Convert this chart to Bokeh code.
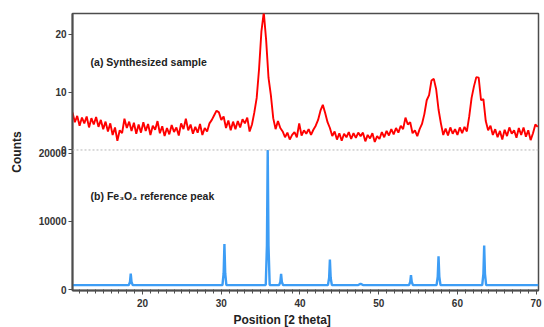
import numpy as np
from bokeh.plotting import figure
from bokeh.models import Range1d, FixedTicker, SingleIntervalTicker, Span, Label, Title
from bokeh.embed import file_html
from bokeh.resources import INLINE

# ---- data ----
theta_start = 11.1
theta_step = 0.3
sample_counts = [
    6.5, 4.8, 5.9, 4.2, 5.6, 4.6, 5.8, 3.9, 5.5, 4.4,
    5.7, 4.0, 5.2, 3.6, 4.9, 3.2, 4.6, 2.6, 3.9, 1.6,
    3.4, 2.9, 5.4, 3.8, 4.9, 3.3, 4.7, 2.8, 4.4, 3.0,
    4.8, 3.3, 4.5, 2.6, 4.2, 3.5, 5.0, 2.9, 4.1, 2.4,
    3.8, 2.7, 4.3, 3.1, 3.9, 2.5, 4.6, 3.6, 5.4, 3.4,
    4.4, 2.8, 4.0, 3.0, 4.5, 2.6, 3.8, 3.2, 4.6, 5.2,
    6.0, 6.8, 6.5, 5.2, 5.8, 3.8, 5.1, 3.4, 4.9, 3.6,
    5.0, 3.9, 5.3, 4.6, 5.6, 3.2, 4.4, 6.5, 9.0, 14.0,
    20.5, 23.8, 19.0, 12.5, 9.5, 5.5, 3.6, 5.0, 3.8, 3.2,
    2.2, 3.0, 1.8, 2.6, 3.1, 2.2, 4.6, 2.5, 3.4, 2.8,
    3.6, 2.6, 3.5, 4.2, 5.2, 6.8, 7.8, 6.4, 4.8, 3.8,
    2.4, 3.2, 1.8, 2.9, 1.6, 2.8, 2.2, 3.1, 1.9, 2.9,
    2.1, 3.0, 2.4, 3.0, 1.5, 2.6, 2.0, 2.9, 1.4, 2.4,
    1.9, 3.1, 2.2, 3.3, 2.5, 3.6, 2.7, 3.8, 3.0, 4.2,
    3.6, 5.6, 4.4, 4.8, 2.9, 3.4, 2.4, 3.6, 4.5, 6.2,
    8.6, 9.5, 12.0, 12.3, 10.5, 7.0, 4.6, 2.6, 3.7, 2.5,
    3.9, 2.8, 3.6, 2.6, 3.9, 2.9, 4.0, 3.2, 5.8, 9.0,
    11.0, 12.6, 12.5, 8.6, 8.8, 5.0, 3.4, 4.2, 2.6, 3.6,
    2.2, 3.3, 1.8, 3.5, 2.4, 3.9, 2.8, 3.4, 2.1, 3.8,
    2.6, 3.9, 2.3, 3.4, 1.7, 2.9, 4.4, 4.0,
]
sample_theta = [theta_start + theta_step * i for i in range(len(sample_counts))]

ref_theta = [
    11.1,
    18.25, 18.4, 18.5, 18.6, 18.75,
    30.15, 30.3, 30.4, 30.5, 30.65,
    35.65, 35.8, 35.9, 36.0, 36.15,
    37.35, 37.5, 37.6, 37.7, 37.85,
    43.55, 43.7, 43.8, 43.9, 44.05,
    47.4, 47.7, 48.0,
    53.85, 54.0, 54.1, 54.2, 54.35,
    57.35, 57.5, 57.6, 57.7, 57.85,
    63.15, 63.3, 63.4, 63.5, 63.65,
    70.3,
]
ref_counts = [
    650,
    650, 1100, 2350, 1100, 650,
    650, 2400, 6700, 2400, 650,
    650, 6500, 20500, 6500, 650,
    650, 1100, 2300, 1100, 650,
    650, 1700, 4400, 1700, 650,
    650, 850, 650,
    650, 1100, 2100, 1100, 650,
    650, 1900, 4900, 1900, 650,
    650, 2300, 6450, 2300, 650,
    650,
]

top_ticks = [0, 10, 20]
bottom_ticks = [0, 10000, 20000]
x_ticks_interval = 10

# ---- ranges ----
bot_start, bot_end = -147, 40588
top_start, top_end = -24.3, 23.6

FONT = "Liberation Sans"
AXIS_COLOR = "#4d4d4d"

p = figure(width=544, height=327, output_backend="svg", toolbar_location=None,
           x_range=Range1d(11.1, 70.3), y_range=Range1d(bot_start, bot_end),
           min_border_left=72, min_border_right=6, min_border_top=13,
           min_border_bottom=0, background_fill_color="white",
           border_fill_color="white")
p.extra_y_ranges = {"top": Range1d(top_start, top_end)}

p.xgrid.visible = False
p.ygrid.visible = False
p.outline_line_color = AXIS_COLOR
p.outline_line_width = 1.5

# left axis: combined ticks for both panels
def top_to_bottom(v):
    return round(bot_start + (v - top_start) / (top_end - top_start) * (bot_end - bot_start))

mapped = [top_to_bottom(v) for v in top_ticks]
ticks = bottom_ticks + mapped
overrides = {t: str(t) for t in bottom_ticks}
for v, m in zip(top_ticks, mapped):
    overrides[m] = str(v)

ya = p.yaxis[0]
ya.ticker = FixedTicker(ticks=ticks, minor_ticks=[])
ya.major_label_overrides = overrides
ya.axis_label = "Counts"
ya.axis_label_text_font = FONT
ya.axis_label_text_font_style = "bold"
ya.axis_label_text_font_size = "12px"
ya.axis_label_text_color = "#222222"
ya.axis_label_standoff = 12
ya.major_label_text_font = FONT
ya.major_label_text_font_style = "bold"
ya.major_label_text_font_size = "10px"
ya.major_label_text_color = "#333333"
ya.major_label_standoff = 2
ya.major_tick_in = 0
ya.major_tick_out = 4
ya.axis_line_color = AXIS_COLOR
ya.axis_line_width = 2
ya.major_tick_line_color = AXIS_COLOR

xa = p.xaxis[0]
xa.ticker = SingleIntervalTicker(interval=x_ticks_interval, num_minor_ticks=10)
xa.major_label_text_font = FONT
xa.major_label_text_font_style = "bold"
xa.major_label_text_font_size = "10px"
xa.major_label_text_color = "#333333"
xa.major_label_standoff = 4
xa.major_tick_in = 0
xa.major_tick_out = 4
xa.minor_tick_in = 1
xa.minor_tick_out = 3
xa.axis_line_color = AXIS_COLOR
xa.axis_line_width = 2
xa.major_tick_line_color = AXIS_COLOR
xa.minor_tick_line_color = AXIS_COLOR

# x axis title, placed below, shifted left like the original
p.add_layout(Title(text="Position [2 theta]", align="left", offset=161,
                   text_font=FONT, text_font_style="bold", text_font_size="12px",
                   text_color="#222222", standoff=2), "below")

# separator between panels
p.add_layout(Span(location=0, dimension="width", y_range_name="top",
                  line_color="#b5b5b5", line_dash="2 2", line_width=1))

# data
p.line(ref_theta, ref_counts, line_color="#3d9df5", line_width=2.4)
p.line(sample_theta, sample_counts, y_range_name="top",
       line_color="#ff0000", line_width=1.9)

# texts
p.add_layout(Label(x=13.4, y=15.2, y_range_name="top", text="(a) Synthesized sample",
                   text_font=FONT, text_font_style="bold", text_font_size="10.5px",
                   text_baseline="middle", text_color="#222222"))
p.add_layout(Label(x=13.4, y=13720, text="(b) Fe\u2083O\u2084 reference peak",
                   text_font=FONT, text_font_style="bold", text_font_size="10.5px",
                   text_baseline="middle", text_color="#222222"))

open("out.html", "w").write(file_html(p, INLINE))
